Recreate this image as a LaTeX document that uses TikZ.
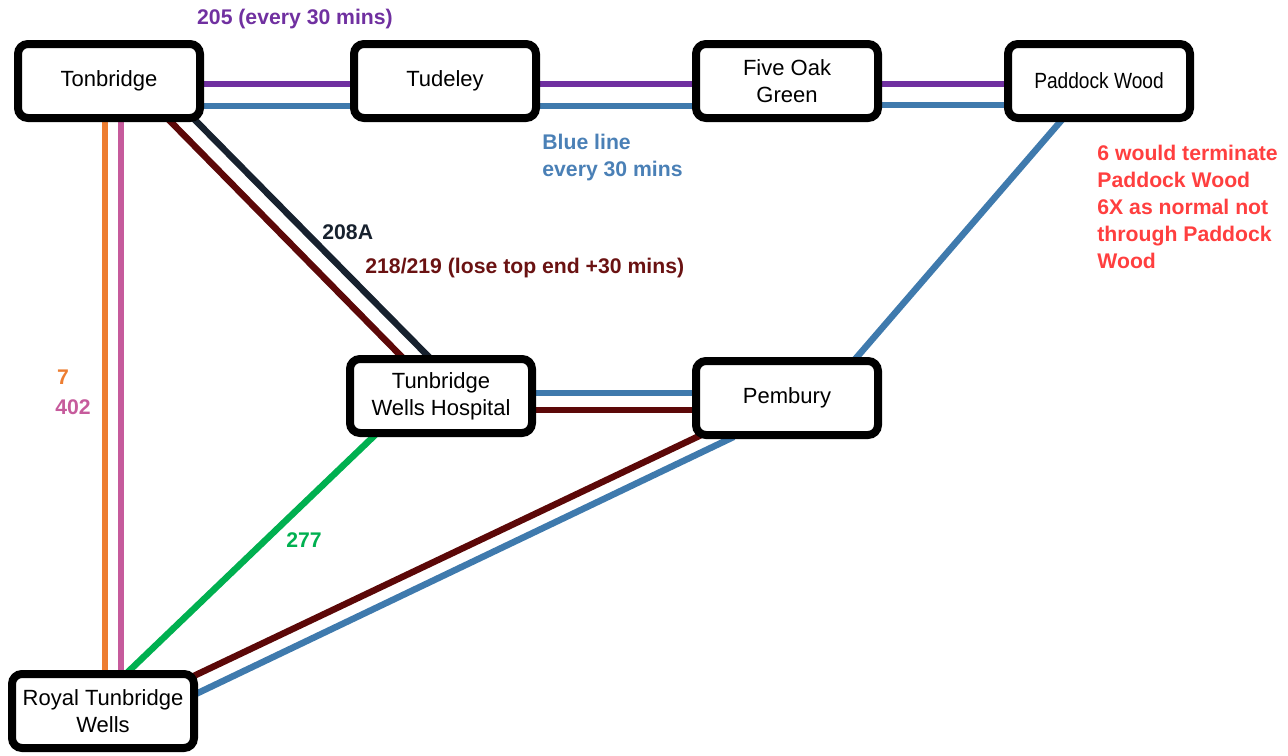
\documentclass[tikz,border=0pt]{standalone}
\usepackage{fontspec}
\setmainfont{Liberation Sans}
\usetikzlibrary{calc,backgrounds}
\definecolor{cpurple}{HTML}{7030A0}
\definecolor{cblue}{HTML}{3F7AAD}
\definecolor{cbluetext}{HTML}{4A80B6}
\definecolor{cnavy}{HTML}{17212E}
\definecolor{cbrown}{HTML}{5C0808}
\definecolor{cbrowntext}{HTML}{6A1212}
\definecolor{corange}{HTML}{ED7D31}
\definecolor{cpink}{HTML}{C65B9C}
\definecolor{cgreen}{HTML}{00B050}
\definecolor{cred}{HTML}{FF3F3F}
\begin{document}
\begin{tikzpicture}[x=0.5pt,y=-0.5pt,
  stn/.style={draw=black, line width=4pt, rounded corners=5pt, fill=white,
    minimum width=91pt, minimum height=37pt, align=center, inner sep=0pt,
    font=\fontsize{11}{13.5}\selectfont},
  route/.style={line width=3.25pt, shorten <=-6pt, shorten >=-6pt},
  lbl/.style={inner sep=0pt, align=left, font=\bfseries\fontsize{10.6}{13.5}\selectfont}]
\useasboundingbox (0,0) rectangle (1288,755);

% stations
\node[stn] (ton) at (109,81) {Tonbridge};
\node[stn] (tud) at (445,81) {Tudeley};
\node[stn] (fog) at (787,81) {Five Oak\\Green};
\node[stn] (pad) at (1099,81) {\scalebox{0.87}[1]{Paddock Wood}};
\node[stn] (hos) at (441,396) {Tunbridge\\Wells Hospital};
\node[stn] (pem) at (787,398) {Pembury};
\node[stn] (rtw) at (103,711) {Royal Tunbridge\\Wells};

\begin{pgfonlayer}{background}
  % 205 purple
  \draw[route, cpurple] ($(ton.east)+(0,3)$) -- ($(tud.west)+(0,3)$);
  \draw[route, cpurple] ($(tud.east)+(0,3)$) -- ($(fog.west)+(0,3)$);
  \draw[route, cpurple] ($(fog.east)+(0,3)$) -- ($(pad.west)+(0,3)$);
  % blue line
  \draw[route, cblue] ($(ton.east)+(0,25)$) -- ($(tud.west)+(0,25)$);
  \draw[route, cblue] ($(tud.east)+(0,25)$) -- ($(fog.west)+(0,25)$);
  \draw[route, cblue] ($(fog.east)+(0,24)$) -- ($(pad.west)+(0,24)$);
  \draw[route, cblue] ($(pad.south)+(-39,0)$) -- ($(pem.north)+(70,0)$);
  \draw[route, cblue] ($(hos.east)+(0,-3)$) -- ($(pem.west)+(0,-5)$);
  \draw[route, cblue] ($(pem.south west)+(31,3)$) -- ($(rtw.east)+(2,-19)$);
  % 208A
  \draw[route, cnavy] ($(ton.south east)+(-7,0)$) -- ($(hos.north)+(-14,0)$);
  % 218/219
  \draw[route, cbrown] ($(ton.south east)+(-33,0)$) -- ($(hos.north)+(-41,0)$);
  \draw[route, cbrown] ($(hos.east)+(0,14)$) -- ($(pem.west)+(0,12)$);
  \draw[route, cbrown] ($(pem.south west)+(5,-2)$) -- ($(rtw.east)+(2,-38)$);
  % 7 and 402
  \draw[route, corange] ($(ton.south)+(-4,0)$) -- ($(rtw.north)+(2,0)$);
  \draw[route, cpink] ($(ton.south)+(12,0)$) -- ($(rtw.north)+(18,0)$);
  % 277
  \draw[route, cgreen] ($(hos.south)+(-68,0)$) -- ($(rtw.north)+(27,0)$);
\end{pgfonlayer}

% labels
\node[lbl, text=cpurple] (l205) at (295,19) {205 (every 30 mins)};
\node[lbl, text=cbluetext, anchor=west] (lblue) at (542,158) {Blue line\\every 30 mins};
\node[lbl, text=cred, anchor=west] (lred) at (1097,207) {6 would terminate\\Paddock Wood\\6X as normal not\\through Paddock\\Wood};
\node[lbl, text=cnavy, anchor=west] (l208) at (322,232) {208A};
\node[lbl, text=cbrowntext, anchor=west] (l218) at (365,268) {218/219 (lose top end +30 mins)};
\node[lbl, text=corange] (l7) at (63,377) {7};
\node[lbl, text=cpink] (l402) at (73,407) {402};
\node[lbl, text=cgreen] (l277) at (304,540) {277};
\end{tikzpicture}
\end{document}
